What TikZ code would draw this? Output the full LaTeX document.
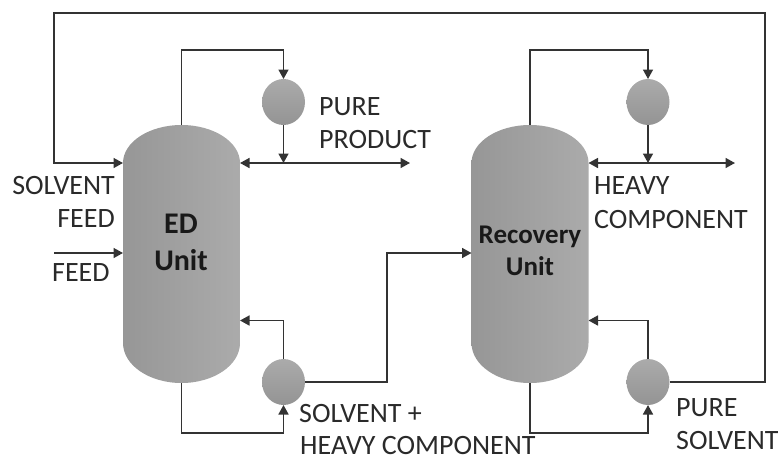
\documentclass[tikz,border=0pt]{standalone}
\usepackage{fontspec}
\setmainfont{Carlito}
\usetikzlibrary{arrows.meta,shapes.geometric}
\definecolor{ln}{HTML}{333333}
\definecolor{txt}{HTML}{2A2A2A}
\tikzset{
  pipe/.style={draw=ln,line width=1.6pt,line join=miter},
  flow/.style={pipe,-{Triangle[length=9.5pt,width=10pt]}},
  twoway/.style={pipe,{Triangle[length=9.5pt,width=10pt]}-{Triangle[length=9.5pt,width=10pt]}},
  vessel/.style={left color=black!41,right color=black!33},
  colbox/.style={rectangle,minimum width=117pt,minimum height=258pt,inner sep=0pt,outer sep=0pt},
  drum/.style={ellipse,minimum width=43pt,minimum height=46pt,inner sep=0pt,outer sep=0pt,top color=black!33,bottom color=black!42,draw=none},
  lab/.style={font=\fontsize{28pt}{30pt}\selectfont,text=txt,inner sep=0pt},
  unit/.style={font=\fontsize{27pt}{30pt}\selectfont\bfseries,text=black!90,inner sep=0pt,anchor=base},
  bigunit/.style={unit,font=\fontsize{30pt}{32pt}\selectfont\bfseries}
}
\newcommand{\columnshape}[2]{%
  \shade[vessel] (#1,163) arc[start angle=180,end angle=360,x radius=58.5,y radius=38]
    -- (#2,343) arc[start angle=0,end angle=180,x radius=58.5,y radius=40] -- cycle;}
\begin{document}
\begin{tikzpicture}[x=1pt,y=-1pt]
\useasboundingbox (0,0) rectangle (778,456);
\columnshape{123}{240}
\columnshape{471.5}{588.5}
\node[colbox] (ed) at (181.5,254) {};
\node[colbox] (rec) at (530,254) {};
\node[drum] (c1) at (283.5,102) {};
\node[drum] (r1) at (283.5,382) {};
\node[drum] (c2) at (648,102) {};
\node[drum] (r2) at (648,382) {};
\coordinate (loopL) at (54,13);
\coordinate (loopR) at (765,13);
\coordinate (feedS) at (54,253);
\coordinate (prodE) at (410,163);
\coordinate (heavyE) at (735,163);
\coordinate (j1) at (283.5,163);
\coordinate (j2) at (648,163);
% recycle
\draw[flow] (r2.east) -- (loopR |- r2.east) -- (loopR) -- (loopL) -- (loopL |- 0,163) -- (ed.west |- 0,163);
\draw[flow] (feedS) -- (ed.west |- feedS);
% ED unit
\draw[flow] (ed.north) -- (ed.north |- 0,50) -- (c1.north |- 0,50) -- (c1.north);
\draw[flow] (c1.south) -- (j1);
\draw[twoway] (ed.east |- j1) -- (prodE);
\draw[flow] (r1.north) -- (r1.north |- 0,320.5) -- (ed.east |- 0,320.5);
\draw[flow] (ed.south) -- (ed.south |- 0,433) -- (r1.south |- 0,433) -- (r1.south);
\draw[flow] (r1.east) -- (387,382) -- (387,253) -- (rec.west |- 0,253);
% Recovery unit
\draw[flow] (rec.north) -- (rec.north |- 0,50) -- (c2.north |- 0,50) -- (c2.north);
\draw[flow] (c2.south) -- (j2);
\draw[twoway] (rec.east |- j2) -- (heavyE);
\draw[flow] (r2.north) -- (r2.north |- 0,320.5) -- (rec.east |- 0,320.5);
\draw[flow] (rec.south) -- (rec.south |- 0,433) -- (r2.south |- 0,433) -- (r2.south);
% labels
\node[bigunit] (t1) at (181,233) {ED};
\node[bigunit] (t2) at (181,270) {Unit};
\node[unit] (t3) at (530,243) {Recovery};
\node[unit] (t4) at (530,275) {Unit};
\node[lab,anchor=base east] (l1) at (115,194) {SOLVENT};
\node[lab,anchor=base east] (l2) at (115,227) {FEED};
\node[lab,anchor=base west] (l3) at (52,281) {FEED};
\node[lab,anchor=base west] (l4) at (319,115) {PURE};
\node[lab,anchor=base west] (l5) at (319,148) {PRODUCT};
\node[lab,anchor=base west] (l6) at (594,194) {HEAVY};
\node[lab,anchor=base west] (l7) at (594,228) {COMPONENT};
\node[lab,anchor=base west] (l8) at (299,422) {SOLVENT +};
\node[lab,anchor=base west] (l9) at (300,454.5) {HEAVY COMPONENT};
\node[lab,anchor=base west] (l10) at (676,416) {PURE};
\node[lab,anchor=base west] (l11) at (676,449) {SOLVENT};
\end{tikzpicture}
\end{document}
